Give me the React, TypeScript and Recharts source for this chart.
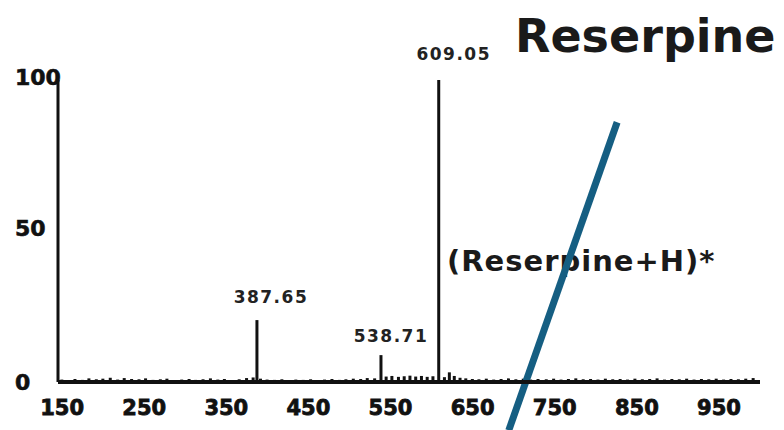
import React from "react";
import {
  ComposedChart,
  Bar,
  XAxis,
  YAxis,
  ReferenceLine,
  LabelList,
  Customized,
} from "recharts";

// ---- data ----
const X_TICKS = [150, 250, 350, 450, 550, 650, 750, 850, 950];
const Y_TICKS = [0, 50, 100];

const PEAK_MZ = [387.65, 538.71, 609.05];
const PEAK_INTENSITY = [20.5, 8.9, 100];
const PEAK_LABELS = ["387.65", "538.71", "609.05"];

const NOISE_MZ = [
  150, 158, 166, 175, 183, 192, 200, 209, 218, 226, 235, 244, 252, 261, 270,
  278, 287, 296, 305, 313, 322, 331, 340, 348, 357, 366, 375, 383, 392, 400,
  409, 418, 427, 435, 444, 453, 461, 470, 479, 488, 496, 505, 514, 522, 531,
  545, 552, 560, 567, 574, 581, 588, 595, 602, 616, 622, 628, 635, 642, 650,
  658, 667, 676, 685, 694, 703, 712, 721, 730, 740, 749, 758, 767, 776, 785,
  794, 803, 812, 821, 830, 839, 848, 857, 866, 875, 884, 893, 902, 911, 920,
  929, 938, 947, 956, 965, 974, 983, 992,
];
const NOISE_INTENSITY = [
  0.8, 0.6, 1.0, 0.7, 1.2, 0.9, 1.1, 1.4, 0.8, 1.3, 1.0, 0.9, 1.2, 0.7, 0.9,
  1.1, 0.6, 0.8, 1.0, 0.7, 0.9, 1.2, 0.8, 1.0, 0.6, 0.9, 1.3, 1.5, 1.1, 0.8,
  0.7, 0.9, 0.6, 0.8, 0.7, 0.9, 0.6, 0.8, 1.0, 0.7, 0.9, 1.1, 1.0, 1.3, 1.2,
  1.8, 2.0, 1.7, 1.9, 2.1, 1.8, 2.0, 1.7, 1.9, 1.6, 3.2, 2.0, 1.4, 1.2, 1.0,
  0.9, 1.1, 0.8, 1.0, 1.2, 0.9, 1.1, 0.8, 1.0, 0.9, 1.1, 0.8, 1.0, 1.2, 0.9,
  1.0, 0.8, 1.1, 0.9, 1.0, 0.8, 1.1, 0.9, 1.0, 1.2, 0.8, 1.0, 0.9, 1.1, 0.8,
  1.0, 0.9, 1.1, 0.8, 1.0, 0.9, 1.1, 1.3,
];

const TITLE = "Reserpine";
const ION_LABEL = "(Reserpine+H)*";
const OVERLAY_FROM = { mz: 826, intensity: 86 };
const OVERLAY_TO = { mz: 694, intensity: -16 };

// ---- build table ----
const data = [
  ...NOISE_MZ.map((mz, i) => ({ mz, intensity: NOISE_INTENSITY[i], label: "" })),
  ...PEAK_MZ.map((mz, i) => ({ mz, intensity: PEAK_INTENSITY[i], label: PEAK_LABELS[i] })),
].sort((a, b) => a.mz - b.mz);

const FONT = "'DejaVu Sans', sans-serif";
const INK = "#111";

const LABEL_OFFSETS: Record<string, { dx: number; dy: number }> = {
  "387.65": { dx: 14, dy: -17 },
  "538.71": { dx: 10, dy: -13 },
  "609.05": { dx: 15, dy: -20 },
};

const renderPeakLabel = (props: any) => {
  const { x, y, width, value } = props;
  if (!value) return null;
  const off = LABEL_OFFSETS[value] || { dx: 0, dy: -10 };
  return (
    <text
      x={Number(x) + Number(width) / 2 + off.dx}
      y={Number(y) + off.dy}
      textAnchor="middle"
      fontFamily={FONT}
      fontWeight="bold"
      fontSize={17}
      letterSpacing={1.5}
      fill="#222"
    >
      {value}
    </text>
  );
};

const YTick = (props: any) => {
  const { y, payload } = props;
  return (
    <text
      x={15}
      y={y}
      dy={payload.value === 0 ? 0 : -3}
      dominantBaseline="central"
      textAnchor="start"
      fontFamily={FONT}
      fontWeight="bold"
      fontSize={22}
      fill={INK}
      stroke={INK}
      strokeWidth={0.6}
    >
      {payload.value}
    </text>
  );
};

const Titles = () => (
  <g>
    <text
      x={515}
      y={52}
      fontFamily={FONT}
      fontWeight="bold"
      fontSize={46}
      fill="#1a1a1a"
    >
      {TITLE}
    </text>
    <text
      x={447}
      y={271}
      fontFamily={FONT}
      fontWeight="bold"
      fontSize={29}
      letterSpacing={1}
      fill="#1a1a1a"
    >
      {ION_LABEL}
    </text>
  </g>
);

export default function App() {
  return (
    <div style={{ position: "absolute", left: 0, top: 0, background: "#fff" }}>
      <ComposedChart
        width={784}
        height={430}
        data={data}
        margin={{ top: 80, right: 24, bottom: 0, left: 0 }}
      >
        <XAxis
          dataKey="mz"
          type="number"
          domain={[145, 1000]}
          ticks={X_TICKS}
          allowDataOverflow
          height={48}
          tickLine={false}
          tickSize={0}
          tickMargin={18}
          axisLine={{ stroke: INK, strokeWidth: 4 }}
          tick={{
            fontFamily: FONT,
            fontWeight: "bold",
            fontSize: 21,
            fill: INK,
            stroke: INK,
            strokeWidth: 0.8,
          }}
        />
        <YAxis
          type="number"
          domain={[0, 100]}
          ticks={Y_TICKS}
          allowDataOverflow
          width={58}
          tickLine={false}
          axisLine={{ stroke: INK, strokeWidth: 3 }}
          tick={<YTick />}
        />
        <Customized component={Titles} />
        <Bar
          dataKey="intensity"
          fill={INK}
          barSize={3}
          isAnimationActive={false}
        >
          <LabelList dataKey="label" content={renderPeakLabel} />
        </Bar>
        <ReferenceLine
          segment={[
            { x: OVERLAY_FROM.mz, y: OVERLAY_FROM.intensity },
            { x: OVERLAY_TO.mz, y: OVERLAY_TO.intensity },
          ]}
          stroke="#155e82"
          strokeWidth={7}
          ifOverflow="visible"
        />
      </ComposedChart>
    </div>
  );
}
